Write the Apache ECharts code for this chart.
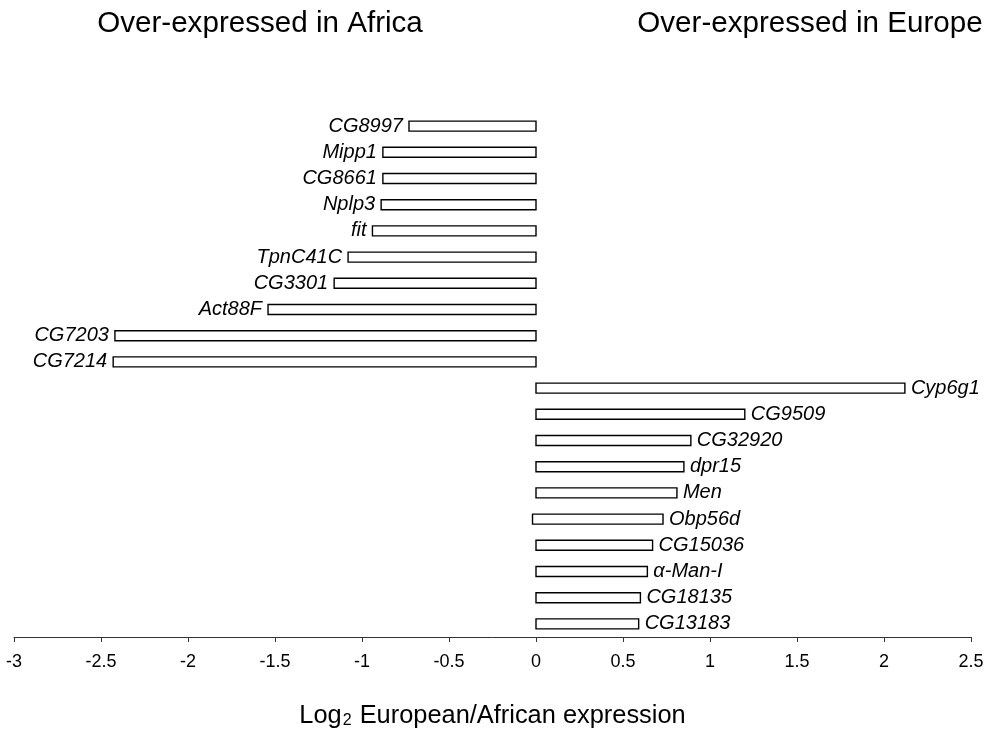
<!DOCTYPE html>
<html>
<head>
<meta charset="utf-8">
<script src="https://cdn.jsdelivr.net/npm/echarts@6/dist/echarts.min.js"></script>
<style>
  html, body { margin: 0; padding: 0; background: #fff; }
  #chart { width: 991px; height: 734px; }
</style>
</head>
<body>
<div id="chart"></div>
<script>
// Genes, top to bottom
const genes = ['CG8997', 'Mipp1', 'CG8661', 'Nplp3', 'fit', 'TpnC41C', 'CG3301', 'Act88F', 'CG7203', 'CG7214',
               'Cyp6g1', 'CG9509', 'CG32920', 'dpr15', 'Men', 'Obp56d', 'CG15036', 'α-Man-I', 'CG18135', 'CG13183'];
// Log2 European/African expression ratio (bar end)
const log2Ratio = [-0.73, -0.88, -0.88, -0.89, -0.94, -1.08, -1.16, -1.54, -2.42, -2.43,
                   2.12, 1.20, 0.89, 0.85, 0.81, 0.73, 0.67, 0.64, 0.60, 0.59];
// Bar start values
const barStart = [0, 0, 0, 0, 0, 0, 0, 0, 0, 0,
                  0, 0, 0, 0, 0, -0.02, 0, 0, 0, 0];
// Axis range and tick step
const xMin = -3, xMax = 2.5, xStep = 0.5;
const headings = ['Over-expressed in Africa', 'Over-expressed in Europe'];

const FONT = '"Liberation Sans", Arial, sans-serif';

const chart = echarts.init(document.getElementById('chart'), null, { renderer: 'canvas' });

const seriesData = genes.map((g, i) => [barStart[i], log2Ratio[i], i]);

chart.setOption({
  animation: false,
  backgroundColor: '#fff',
  grid: { left: 14, right: 20, top: 113, bottom: 83, containLabel: false },
  title: [
    { text: headings[0], left: 255, top: 4, textAlign: 'center',
      textStyle: { fontFamily: FONT, fontSize: 29.6, fontWeight: 'normal', color: '#000' } },
    { text: headings[1], left: 805, top: 4, textAlign: 'center',
      textStyle: { fontFamily: FONT, fontSize: 29.6, fontWeight: 'normal', color: '#000' } }
  ],
  xAxis: {
    type: 'value', min: xMin, max: xMax, interval: xStep,
    axisLine: { show: true, lineStyle: { color: '#333', width: 1 } },
    axisTick: { show: true, inside: false, length: 5, lineStyle: { color: '#333', width: 1 } },
    splitLine: { show: false },
    axisLabel: { margin: 16, color: '#000', fontFamily: FONT, fontSize: 18 },
    name: '{n|Log}{s|2}{n| European/African expression}',
    nameLocation: 'middle', nameGap: 66,
    nameTextStyle: {
      rich: {
        n: { fontFamily: FONT, fontSize: 25.4, color: '#000' },
        s: { fontFamily: FONT, fontSize: 16, color: '#000', padding: [10, 1, 0, 1] }
      }
    }
  },
  yAxis: {
    type: 'category', data: genes, inverse: true,
    axisLine: { show: false }, axisTick: { show: false }, axisLabel: { show: false },
    splitLine: { show: false }
  },
  series: [{
    type: 'custom',
    data: seriesData,
    encode: { x: [0, 1], y: 2 },
    renderItem: function (params, api) {
      const idx = api.value(2);
      const p0 = api.coord([api.value(0), idx]);
      const p1 = api.coord([api.value(1), idx]);
      const h = 10;
      const x0 = Math.min(p0[0], p1[0]);
      const w = Math.abs(p1[0] - p0[0]);
      const neg = api.value(1) < 0;
      const gap = 6;
      return {
        type: 'group',
        children: [
          {
            type: 'rect',
            shape: { x: x0, y: p1[1] - h / 2, width: w, height: h },
            style: { fill: '#fff', stroke: '#000', lineWidth: 1.4 }
          },
          {
            type: 'text',
            style: {
              text: genes[params.dataIndex],
              x: neg ? x0 - gap : x0 + w + gap,
              y: p1[1],
              align: neg ? 'right' : 'left',
              verticalAlign: 'middle',
              fontFamily: FONT, fontSize: 20, fontStyle: 'italic',
              fill: '#000'
            }
          }
        ]
      };
    }
  }]
});
</script>
</body>
</html>
